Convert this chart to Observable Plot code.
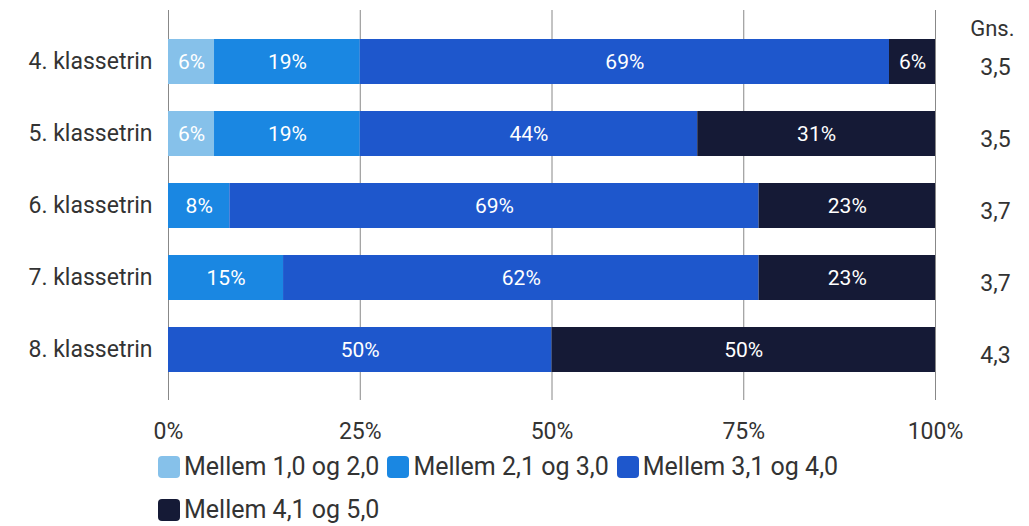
<!DOCTYPE html>
<html>
<head>
<meta charset="utf-8">
<script src="https://cdn.jsdelivr.net/npm/d3@7"></script>
<script src="https://cdn.jsdelivr.net/npm/@observablehq/plot@0.6"></script>
<style>
  body { margin: 0; background: #fff; font-family: Roboto, "Noto Sans", sans-serif; }
  #legend { margin-left: 158px; width: 820px; display: flex; flex-wrap: wrap; column-gap: 8px; row-gap: 9px; font-size: 25px; line-height: 34px; color: #333; }
  .item { display: flex; align-items: center; gap: 4px; }
  .sw { width: 22px; height: 22px; border-radius: 4px; display: inline-block; }
</style>
</head>
<body>
<div id="chart"></div>
<div id="legend"></div>
<script>
const categories = ["4. klassetrin", "5. klassetrin", "6. klassetrin", "7. klassetrin", "8. klassetrin"];
const groups = ["Mellem 1,0 og 2,0", "Mellem 2,1 og 3,0", "Mellem 3,1 og 4,0", "Mellem 4,1 og 5,0"];
const colors = ["#86c1ea", "#1a87e2", "#1e57cc", "#151a36"];
const s1 = [6, 6, 0, 0, 0];
const s2 = [19, 19, 8, 15, 0];
const s3 = [69, 44, 69, 62, 50];
const s4 = [6, 31, 23, 23, 50];
const gns = ["3,5", "3,5", "3,7", "3,7", "4,3"];
const xTicks = [0, 25, 50, 75, 100];

const series = [s1, s2, s3, s4];
const data = [];
categories.forEach((c, i) => {
  groups.forEach((g, j) => data.push({category: c, group: g, value: series[j][i]}));
});
const gnsData = categories.map((c, i) => ({category: c, gns: gns[i]}));

const plot = Plot.plot({
  width: 1029,
  height: 450,
  marginLeft: 168,
  marginRight: 94,
  marginTop: 10,
  marginBottom: 50,
  style: {fontFamily: "Roboto, sans-serif", fontSize: "22px", color: "#333", background: "#fff"},
  x: {domain: [0, 100], label: null},
  y: {domain: categories, padding: 0.38, label: null},
  color: {domain: groups, range: colors},
  marks: [
    Plot.ruleX(xTicks, {stroke: "#888", strokeWidth: 1}),
    Plot.barX(data, Plot.stackX({x: "value", y: "category", fill: "group", order: groups})),
    Plot.textX(data.filter(d => d.value > 0), Plot.stackX({x: "value", y: "category", z: "group", order: groups, text: d => d.value + "%", fill: "white", fontSize: 21})),
    Plot.text(gnsData, {x: 100, y: "category", text: "gns", dx: 60, dy: 6, fontSize: 23, fill: "#333"}),
    Plot.text(["Gns."], {frameAnchor: "top-right", dx: 79, dy: 10, fontSize: 22, fill: "#333"}),
    Plot.axisX({ticks: xTicks, tickFormat: d => d + "%", tickSize: 0, tickPadding: 22, fontSize: 23, label: null}),
    Plot.axisY({tickSize: 0, tickPadding: 16, fontSize: 23, label: null})
  ]
});
document.getElementById("chart").appendChild(plot);

const legend = document.getElementById("legend");
groups.forEach((g, i) => {
  const it = document.createElement("div");
  it.className = "item";
  it.innerHTML = `<span class="sw" style="background:${colors[i]}"></span><span>${g}</span>`;
  legend.appendChild(it);
});
</script>
</body>
</html>
